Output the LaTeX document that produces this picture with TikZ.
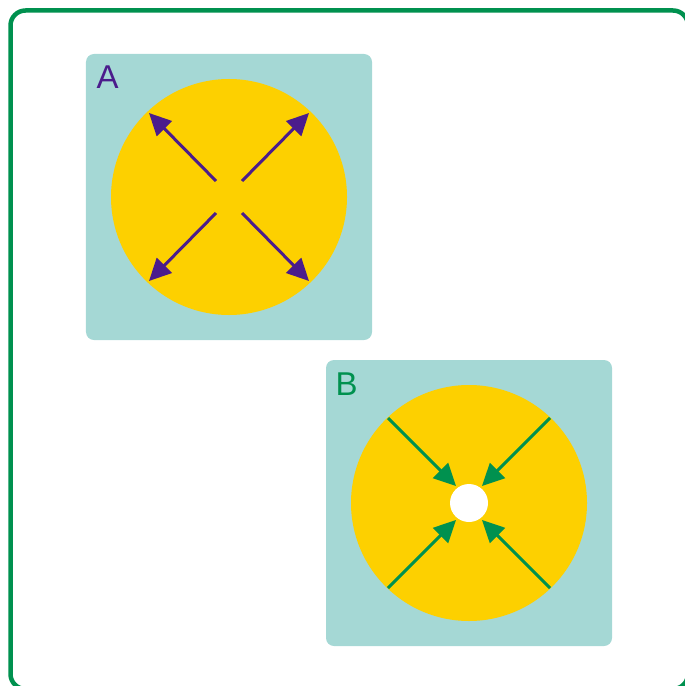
\documentclass[tikz,border=0pt]{standalone}
\usepackage{fontspec}
\setsansfont{Liberation Sans}
\usepackage{xcolor}
\definecolor{panelteal}{HTML}{A5D8D5}
\definecolor{discyellow}{HTML}{FDD000}
\definecolor{expandpurple}{HTML}{4B1C8C}
\definecolor{framegreen}{HTML}{00914F}
\usetikzlibrary{arrows.meta, calc}

\begin{document}
\begin{tikzpicture}[x=1bp, y=-1bp, >={Triangle[length=22bp, width=21bp]},
    font=\sffamily\fontsize{33bp}{33bp}\selectfont,
    panel/.style={fill=panelteal, rounded corners=8bp, minimum size=286bp, inner sep=0pt},
    disc/.style={circle, fill=discyellow, minimum size=236bp, inner sep=0pt},
    outarrow/.style={->, line width=3bp, expandpurple},
    inarrow/.style={->, line width=3bp, framegreen}]

\useasboundingbox (0,0) rectangle (685,686);

% --- Marco ---
\draw[framegreen, line width=4.5bp, rounded corners=15bp]
    (10.5,10.5) rectangle (688,689);

% =====================================================
% A: expansion
% =====================================================
\node[panel] (panelA) at (229,197) {};
\node[disc] (discA) at (panelA.center) {};
\node[anchor=base west, text=expandpurple, inner sep=0pt] (labelA) at (96.5,89) {A};

\foreach \dx/\dy in {-1/-1, 1/-1, -1/1, 1/1} {
    \draw[outarrow] ($(discA)+(13*\dx,16*\dy)$) -- ($(discA)+(80*\dx,84*\dy)$);
}

% =====================================================
% B: contraction
% =====================================================
\node[panel] (panelB) at (469,503) {};
\node[disc] (discB) at (panelB.center) {};
\node[circle, fill=white, minimum size=38bp, inner sep=0pt] (holeB) at (discB) {};
\node[anchor=base west, text=framegreen, inner sep=0pt] (labelB) at (335.5,395) {B};

\foreach \dx/\dy in {-1/-1, 1/-1, -1/1, 1/1} {
    \draw[inarrow] ($(discB)+(81*\dx,85*\dy)$) -- ($(discB)+(13*\dx,17*\dy)$);
}

\end{tikzpicture}
\end{document}
